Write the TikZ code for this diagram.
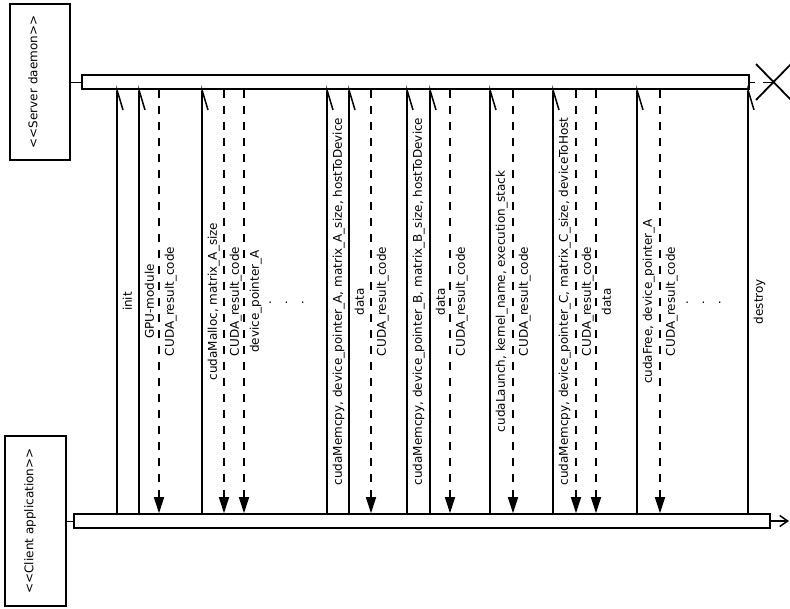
\documentclass[tikz,border=0pt]{standalone}
\usepackage{fontspec}
\setmainfont{DejaVu Sans}
\usetikzlibrary{arrows.meta,shapes.misc}
\newcommand\callmsg[2]{\draw[callline] (#1,0 |- cbar.north) -- node[lbl] (m#1) {#2} (#1,0 |- sbar.south);}
\newcommand\retmsg[2]{\draw[retline] (#1,0 |- sbar.south) -- node[lbl] (m#1) {#2} (#1,0 |- cbar.north);}
\begin{document}
\begin{tikzpicture}[x=1pt,y=-1pt,
  every node/.style={font=\fontsize{12}{14}\selectfont},
  actor/.style={draw, line width=1.8pt, inner sep=0pt},
  bar/.style={draw, line width=1.6pt, fill=white, inner sep=0pt, minimum height=14pt},
  callline/.style={line width=1.5pt, shorten >=-5pt, -{Straight Barb[harpoon,swap,length=20pt,width=12pt,line width=1.5pt]}},
  retline/.style={line width=1.5pt, dash pattern=on 8pt off 8pt, -{Triangle[length=16pt,width=10pt]}},
  lbl/.style={xshift=5pt, rotate=90, anchor=north, inner sep=0pt},
  thin/.style={line width=1pt},
]
\useasboundingbox (0,0) rectangle (790,608);
% actors
\node[actor, minimum width=60pt, minimum height=156pt] (sbox) at (40,82) {};
\node[rotate=90, inner sep=0pt] (stxt) at (33,82) {<{}<Server daemon>{}>};
\node[actor, minimum width=61pt, minimum height=170pt] (cbox) at (35.5,521) {};
\node[rotate=90, inner sep=0pt] (ctxt) at (30,521) {<{}<Client application>{}>};
% lifeline bars
\node[bar, minimum width=667pt] (sbar) at (415.5,82) {};
\node[bar, minimum width=696pt] (cbar) at (422,521) {};
\draw[thin] (sbox.east) -- (sbar.west);
\draw[thin] (cbox.east) -- (cbar.west);
\coordinate (cend) at (789,521);
\draw[line width=1.5pt, -{Straight Barb[length=8pt,width=11pt]}] (cbar.east) -- (cend);
\node[draw, cross out, line width=1.8pt, minimum width=33pt, minimum height=34pt, inner sep=0pt] (xx) at (773.5,82) {};
\draw[thin, dash pattern=on 5pt off 8pt on 20pt off 1pt] (sbar.east) -- (xx.center);
% messages
\callmsg{117}{init}
\callmsg{139}{GPU-module}
\retmsg{159}{CUDA\_result\_code}
\callmsg{202}{cudaMalloc, matrix\_A\_size}
\retmsg{224}{CUDA\_result\_code}
\retmsg{244}{device\_pointer\_A}
\node[anchor=base, inner sep=0pt] (dots1) at (286.5,303) {.\hspace{12.5pt}.\hspace{12.5pt}.};
\callmsg{327}{cudaMemcpy, device\_pointer\_A, matrix\_A\_size, hostToDevice}
\callmsg{349}{data}
\retmsg{371}{CUDA\_result\_code}
\callmsg{407}{cudaMemcpy, device\_pointer\_B, matrix\_B\_size, hostToDevice}
\callmsg{430}{data}
\retmsg{450}{CUDA\_result\_code}
\callmsg{490}{cudaLaunch, kernel\_name, execution\_stack}
\retmsg{513}{CUDA\_result\_code}
\callmsg{553}{cudaMemcpy, device\_pointer\_C, matrix\_C\_size, deviceToHost}
\retmsg{576}{CUDA\_result\_code}
\retmsg{596}{data}
\callmsg{637}{cudaFree, device\_pointer\_A}
\retmsg{660}{CUDA\_result\_code}
\node[anchor=base, inner sep=0pt] (dots2) at (703.5,303) {.\hspace{12.5pt}.\hspace{12.5pt}.};
\callmsg{748}{destroy}
\end{tikzpicture}
\end{document}
